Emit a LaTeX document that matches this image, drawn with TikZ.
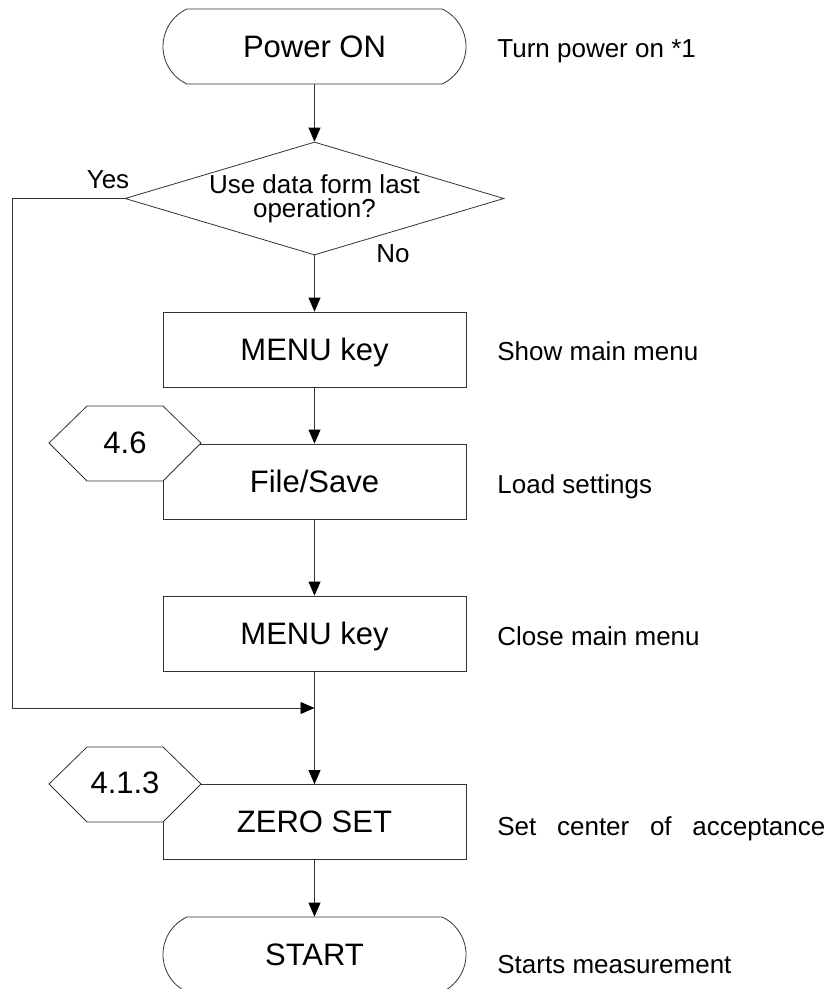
\documentclass[tikz,border=0pt]{standalone}
\usepackage{fontspec}
\setmainfont{Liberation Sans}
\usetikzlibrary{arrows.meta,shapes.geometric,shapes.misc}
\begin{document}
\begin{tikzpicture}[x=1pt,y=-1pt,line width=0.8pt,
  boxfont/.style={font=\fontsize{31}{34}\selectfont},
  stepbox/.style={draw=black!80, rectangle, minimum width=303pt, minimum height=75pt, inner sep=0pt, boxfont, text height=21pt, text depth=0pt},
  term/.style={draw=black!80, rounded rectangle, rounded rectangle arc length=130, minimum width=303pt, minimum height=75pt, inner sep=0pt, boxfont, text height=21pt, text depth=0pt},
  decide/.style={draw=black!80, diamond, minimum width=379pt, minimum height=113pt, inner sep=0pt},
  note/.style={anchor=base west, inner sep=0pt, font=\fontsize{26}{30}\selectfont},
  hexa/.style={draw=black!80, fill=white},
  reftext/.style={anchor=base, inner sep=0pt, boxfont},
  arr/.style={-{Triangle[length=14pt,width=12pt,color=black]}, draw=black!80}
]
\clip (0,0) rectangle (829,989);
\fill[white] (0,0) rectangle (829,989);

% main nodes
\node[term] (pon) at (314.5,46.5) {Power ON};
\node[decide] (dec) at (314.5,198.5) {};
\node[align=center, inner sep=0pt, font=\fontsize{26}{24.5}\selectfont] (dtext) at (314.5,199) {Use data form last\\operation?};
\node[stepbox] (menu1) at (314.5,349.5) {MENU key};
\node[stepbox] (file) at (314.5,481.5) {File/Save};
\node[stepbox] (menu2) at (314.5,633.5) {MENU key};
\node[stepbox] (zero) at (314.5,822) {ZERO SET};
\node[term] (start) at (314.5,954.5) {START};

% reference hexagons
\draw[hexa] (49,443) -- (87,406) -- (163,406) -- (201,443) -- (163,481) -- (87,481) -- cycle;
\node[reftext] (ref1) at (125,453) {4.6};
\draw[hexa] (49,784) -- (87,747) -- (163,747) -- (201,784) -- (163,822) -- (87,822) -- cycle;
\node[reftext] (ref2) at (125,793) {4.1.3};

% branch labels
\node[anchor=base, inner sep=0pt, font=\fontsize{26}{30}\selectfont] (yes) at (108,188) {Yes};
\node[anchor=base, inner sep=0pt, font=\fontsize{26}{30}\selectfont] (no) at (393,262) {No};

% side notes
\node[note] (n1) at (497,57) {Turn power on *1};
\node[note] (n2) at (497,360) {Show main menu};
\node[note] (n3) at (497,493) {Load settings};
\node[note] (n4) at (497,645) {Close main menu};
\node[note] (n5) at (497,835) {\makebox[328pt][s]{Set center of acceptance}};
\node[note] (n6) at (497,973) {Starts measurement};

% connectors
\coordinate (yc1) at (12,198.5);
\coordinate (yc2) at (12,708);
\coordinate (join) at (314.5,708);
\draw[arr] (pon.south) -- (dec.north);
\draw[arr] (dec.south) -- (menu1.north);
\draw[arr] (menu1.south) -- (file.north);
\draw[arr] (file.south) -- (menu2.north);
\draw[arr] (menu2.south) -- (zero.north);
\draw[arr] (zero.south) -- (start.north);
\draw[arr] (dec.west) -- (yc1) -- (yc2) -- (join);
\end{tikzpicture}
\end{document}
